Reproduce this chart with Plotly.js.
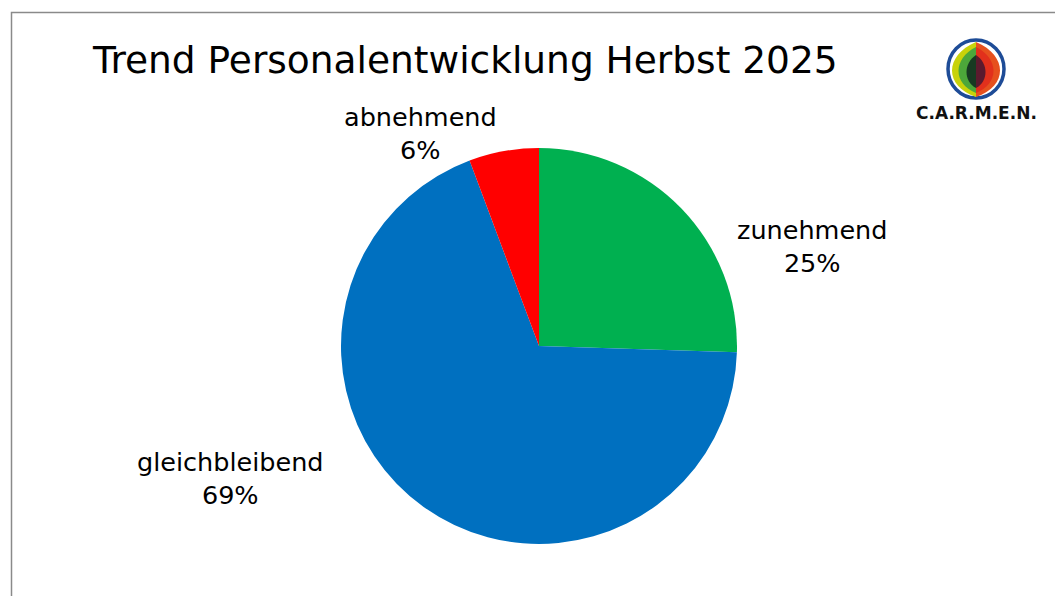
<!DOCTYPE html>
<html><head><meta charset="utf-8">
<script src="https://cdn.plot.ly/plotly-3.0.1.min.js"></script>
<style>html,body{margin:0;padding:0;background:#fff}</style>
</head><body>
<div id="chart" style="width:1055px;height:596px"></div>
<script>
const categories = ["zunehmend", "gleichbleibend", "abnehmend"];
const shares = [25.5, 68.8, 5.7];
const percentLabels = ["25%", "69%", "6%"];
const colors = ["#00B050", "#0070C0", "#FF0000"];
const titleText = "Trend Personalentwicklung Herbst 2025";

const W = 1055, H = 596;
const FONT = "DejaVu Sans, sans-serif";

// label placement (pixel coords) per category
const labelPos = [[812, 246], [230, 478], [420, 133]];

const annotations = categories.map((c, i) => ({
  xref: 'x', yref: 'y', x: labelPos[i][0], y: labelPos[i][1],
  text: c + '<br>' + percentLabels[i], showarrow: false,
  font: {family: FONT, size: 25.5, color: '#000'}, align: 'center'
}));
annotations.push({
  xref: 'x', yref: 'y', x: 976, y: 112.5, text: '<b>C.A.R.M.E.N.</b>', showarrow: false,
  font: {family: "DejaVu Sans, sans-serif", size: 17, color: '#111'}
});

function lens(cx, top, bot, bulge, side, color) {
  const c = bulge / 0.75 * side;
  const h = bot - top;
  return {type: 'path', xref: 'x', yref: 'y', line: {width: 0}, fillcolor: color, layer: 'above',
    path: `M${cx},${top} C${cx + c},${top + h * 0.25} ${cx + c},${bot - h * 0.2} ${cx},${bot} Z`};
}

const shapes = [
  {type: 'rect', xref: 'x', yref: 'y', x0: 11.5, y0: 12.5, x1: 1070, y1: 610,
   line: {color: '#8a8a8a', width: 1.5}, fillcolor: 'rgba(0,0,0,0)'},
  {type: 'circle', xref: 'x', yref: 'y', x0: 948, x1: 1004, y0: 40, y1: 98,
   line: {color: '#1E4C97', width: 3.5}, fillcolor: '#fff', layer: 'above'},
  lens(976, 42, 97, 24, -1, '#C8D20A'),
  lens(976, 47, 93, 17.5, -1, '#4CA73A'),
  lens(976, 55, 88, 9.5, -1, '#173A22'),
  lens(976, 42, 97, 24, 1, '#E6501E'),
  lens(976, 47, 93, 17.5, 1, '#E2301C'),
  lens(976, 55, 88, 9.5, 1, '#5C1A2E')
];

const pieTrace = {
  type: 'pie', labels: categories, values: shares, sort: false,
  direction: 'clockwise', rotation: 0,
  marker: {colors: colors, line: {width: 0}},
  textinfo: 'none', hoverinfo: 'label+percent', showlegend: false,
  domain: {x: [341 / W, 737 / W], y: [1 - 544 / H, 1 - 148 / H]}
};
const helper = {type: 'scatter', x: [], y: [], hoverinfo: 'skip', showlegend: false};

const layout = {
  width: W, height: H, margin: {l: 0, r: 0, t: 0, b: 0},
  paper_bgcolor: '#fff', plot_bgcolor: 'rgba(0,0,0,0)',
  showlegend: false,
  title: {text: titleText, font: {family: FONT, size: 37.5, color: '#000'},
    xref: 'paper', yref: 'container', x: 93 / W, xanchor: 'left', y: 1 - 60 / H, yanchor: 'middle'},
  xaxis: {range: [0, W], visible: false, fixedrange: true},
  yaxis: {range: [H, 0], visible: false, fixedrange: true},
  shapes: shapes, annotations: annotations
};

Plotly.newPlot('chart', [helper, pieTrace], layout, {displayModeBar: false, staticPlot: true});
</script>
</body></html>
